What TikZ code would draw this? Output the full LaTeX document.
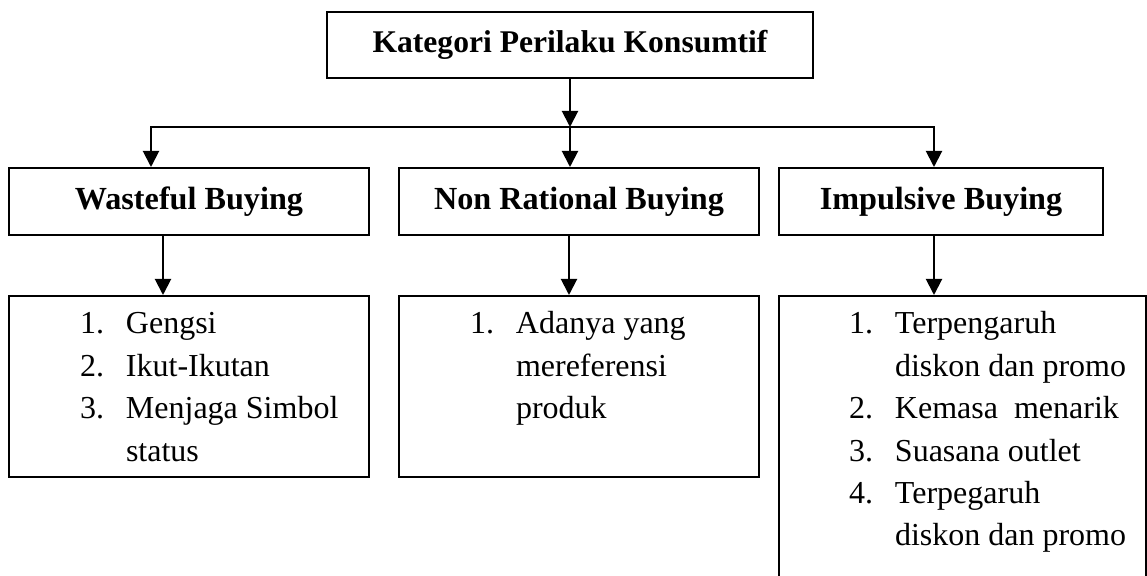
\documentclass[tikz,border=0pt]{standalone}
\usepackage{fontspec}
\setmainfont{Liberation Serif}
\usetikzlibrary{arrows.meta,positioning}

\begin{document}
\begin{tikzpicture}[x=0.5pt,y=-0.5pt,line width=1pt,
                    >={Triangle[width=8pt,length=8pt]},
                    head node/.style={draw,inner sep=0pt,minimum height=33.5pt,
                                      font=\fontsize{16.1}{19}\selectfont\bfseries},
                    list box/.style={draw,inner sep=0pt},
                    list text/.style={anchor=base west,inner sep=0pt,
                                      font=\fontsize{16}{21.2}\selectfont}]

        \useasboundingbox (0,0) rectangle (1147,576);
        \clip (0,0) rectangle (1147,576);

        % Define boxes
        \node[head node,minimum width=243pt,minimum height=33pt,
              font=\fontsize{15.8}{19}\selectfont\bfseries] (kat) at (570,45) {Kategori Perilaku Konsumtif};
        \node[head node,minimum width=180pt] (wb) at (189,201.5) {Wasteful Buying};
        \node[head node,minimum width=180pt] (nrb) at (579,201.5) {Non Rational Buying};
        \node[head node,minimum width=162pt] (ib) at (941,201.5) {Impulsive Buying};
        \node[list box,minimum width=180pt,minimum height=90.5pt] (wbl) at (189,386.5) {};
        \node[list box,minimum width=180pt,minimum height=90.5pt] (nrbl) at (579,386.5) {};
        \node[list box,minimum width=183.5pt,minimum height=162pt] (ibl) at (962.5,458) {};

        % Define list texts
        \node[list text] (wbt) at ([xshift=35.5pt,yshift=-19.5pt]wbl.north west)
            {\begin{tabular}[t]{@{}p{23pt}@{}l@{}}
             1. & Gengsi\\
             2. & Ikut-Ikutan\\
             3. & Menjaga Simbol\\
                & status
             \end{tabular}};
        \node[list text] (nrbt) at ([xshift=35.5pt,yshift=-19.5pt]nrbl.north west)
            {\begin{tabular}[t]{@{}p{23pt}@{}l@{}}
             1. & Adanya yang\\
                & mereferensi\\
                & produk
             \end{tabular}};
        \node[list text] (ibt) at ([xshift=35pt,yshift=-19.5pt]ibl.north west)
            {\begin{tabular}[t]{@{}p{23pt}@{}l@{}}
             1. & Terpengaruh\\
                & diskon dan promo\\
             2. & Kemasa\ \ menarik\\
             3. & Suasana outlet\\
             4. & Terpegaruh\\
                & diskon dan promo
             \end{tabular}};

        % Define junction points
        \coordinate (split) at (570,127);
        \coordinate (wbin) at (151,127);
        \coordinate (ibin) at (934,127);

        % Draw edges
        \draw[->] (kat) -- (split);
        \draw[<->] (wbin |- wb.north) -- (wbin) -- (ibin) -- (ibin |- ib.north);
        \draw[->] (split) -- (split |- nrb.north);
        \draw[->] (wb.south -| 163,0) -- (wbl.north -| 163,0);
        \draw[->] (nrb.south -| 569,0) -- (nrbl.north -| 569,0);
        \draw[->] (ib.south -| 934,0) -- (ibl.north -| 934,0);

\end{tikzpicture}
\end{document}
